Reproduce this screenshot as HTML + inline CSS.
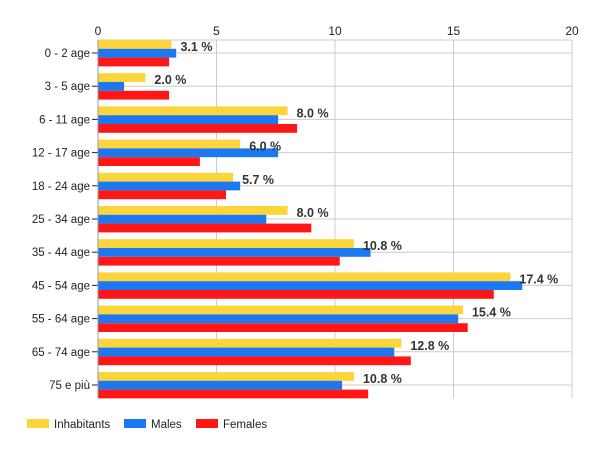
<!DOCTYPE html>
<html><head><meta charset="utf-8"><style>body{margin:0;background:#fff}svg{display:block;font-family:"Liberation Sans",sans-serif}</style></head><body>
<svg width="600" height="450" xmlns="http://www.w3.org/2000/svg" id="c"></svg>
<script>
const s=document.getElementById('c');
const cats=["0 - 2 age","3 - 5 age","6 - 11 age","12 - 17 age","18 - 24 age","25 - 34 age","35 - 44 age","45 - 54 age","55 - 64 age","65 - 74 age","75 e più"];
const Y=[3.1,2.0,8.0,6.0,5.7,8.0,10.8,17.4,15.4,12.8,10.8];
const B=[3.3,1.1,7.6,7.6,6.0,7.1,11.5,17.9,15.2,12.5,10.3];
const R=[3.0,3.0,8.4,4.3,5.4,9.0,10.2,16.7,15.6,13.2,11.4];
const x0=98,k=23.7;let h='';
for(let i=0;i<=4;i++){const x=x0+i*5*k;h+=`<line x1="${x}" y1="40" x2="${x}" y2="398" stroke="#ccc"/><text x="${x}" y="35" font-size="12" text-anchor="middle" fill="#222">${i*5}</text>`;}
h+=`<line x1="${x0}" y1="40" x2="572" y2="40" stroke="#ccc"/>`;
for(let i=0;i<11;i++){const c=53+i*33.2;
h+=`<line x1="${x0}" y1="${c}" x2="572" y2="${c}" stroke="#ccc"/>`;
const t=c-13;
h+=`<rect x="${x0}" y="${t}" width="${Y[i]*k}" height="8.8" fill="#FBD539"/>`;
h+=`<rect x="${x0}" y="${t+8.8}" width="${B[i]*k}" height="8.8" fill="#1B78F0"/>`;
h+=`<rect x="${x0}" y="${t+17.6}" width="${R[i]*k}" height="8.8" fill="#FF1717"/>`;
h+=`<text x="${x0+Y[i]*k+9}" y="${t+11}" font-size="12.5" font-weight="bold" fill="#333">${Y[i].toFixed(1)} %</text>`;
h+=`<line x1="92" y1="${c}" x2="98" y2="${c}" stroke="#222"/><text x="90" y="${c+4}" font-size="11.5" text-anchor="end" fill="#222">${cats[i]}</text>`;}
h+=`<line x1="${x0}" y1="40" x2="${x0}" y2="398" stroke="#999"/>`;
h+=`<rect x="27" y="419" width="22" height="9" fill="#FBD539"/><text x="54" y="428" font-size="11.5" fill="#222">Inhabitants</text>`;
h+=`<rect x="124" y="419" width="22" height="9" fill="#1B78F0"/><text x="151" y="428" font-size="11.5" fill="#222">Males</text>`;
h+=`<rect x="196" y="419" width="22" height="9" fill="#FF1717"/><text x="223" y="428" font-size="11.5" fill="#222">Females</text>`;
s.innerHTML=h;
</script>
</body></html>
